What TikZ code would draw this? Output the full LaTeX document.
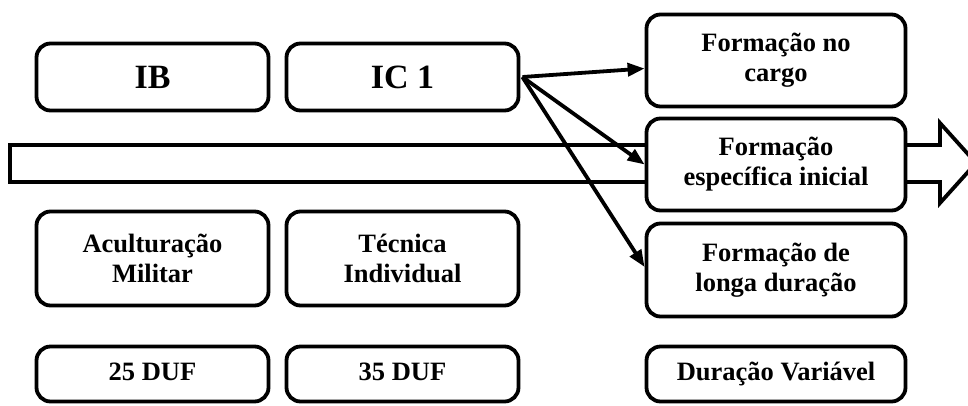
\documentclass[tikz,border=0pt]{standalone}
\usepackage{fontspec}
\setmainfont{Liberation Serif}
\usetikzlibrary{arrows.meta,calc}
\begin{document}
\begin{tikzpicture}[x=1pt,y=-1pt,
  box/.style={draw,line width=3.8pt,rounded corners=14pt,fill=white,inner sep=0pt,align=center,
    font=\bfseries\fontsize{26.5}{30}\selectfont},
  oneline/.style={text height=18pt,text depth=5pt},
  bigtxt/.style={font=\bfseries\fontsize{34}{40}\selectfont},
  conn/.style={line width=3.8pt,-{Triangle[length=17pt,width=13pt]}}]
\useasboundingbox (0,0) rectangle (968,405);
\begin{scope}
\clip (0,0) rectangle (968,405);
\draw[line width=3.8pt,fill=white,line join=miter] (10,145) -- (940,145) -- (940,123) -- (976,163) -- (940,203) -- (940,182) -- (10,182) -- cycle;
\end{scope}
\node[box,bigtxt,minimum width=232pt,minimum height=67pt] (ib) at (152.5,77) {IB};
\node[box,bigtxt,minimum width=232pt,minimum height=67pt] (ic) at (402.5,77) {IC 1};
\node[box,minimum width=232pt,minimum height=94pt] (ac) at (152.5,258.5) {Aculturação\\Militar};
\node[box,minimum width=232pt,minimum height=94pt] (ti) at (402.5,258.5) {Técnica\\Individual};
\node[box,oneline,minimum width=232pt,minimum height=55pt] (d25) at (152.5,374) {25 DUF};
\node[box,oneline,minimum width=232pt,minimum height=55pt] (d35) at (402.5,374) {35 DUF};
\node[box,minimum width=259pt,minimum height=92pt] (f1) at (776,60.5) {Formação no\\cargo};
\node[box,minimum width=259pt,minimum height=92pt] (f2) at (776,164.5) {Formação\\específica inicial};
\node[box,minimum width=259pt,minimum height=93pt] (f3) at (776,270) {Formação de\\longa duração};
\node[box,oneline,minimum width=259pt,minimum height=55pt] (f4) at (776,374) {Duração Variável};
\coordinate (src) at ($(ic.east)+(2pt,0)$);
\draw[conn] (src) -- ([yshift=-8pt]f1.west);
\draw[conn] (src) -- (f2.west);
\draw[conn] (src) -- ([yshift=3pt]f3.west);
\end{tikzpicture}
\end{document}
